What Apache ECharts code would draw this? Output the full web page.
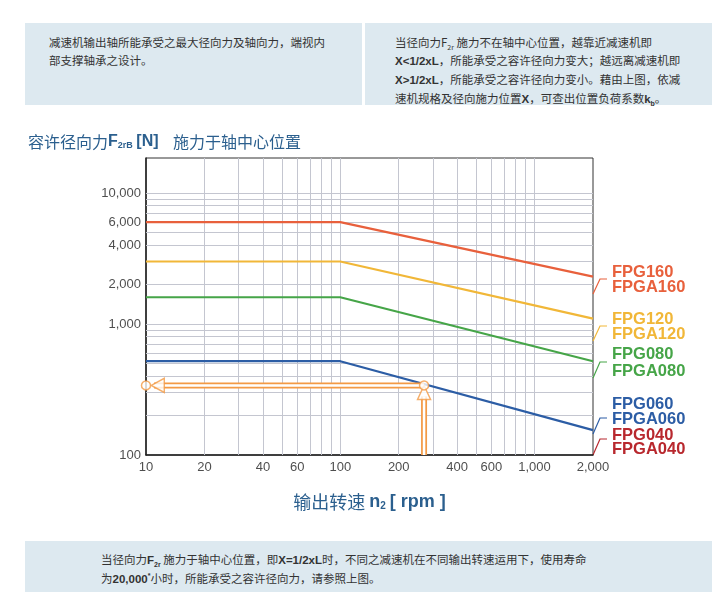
<!DOCTYPE html><html><head><meta charset="utf-8">
<script src="https://cdn.jsdelivr.net/npm/echarts@6/dist/echarts.min.js"></script>
<style>
body{margin:0;width:712px;height:592px;position:relative;background:#fff;font-family:"Noto Sans CJK SC",sans-serif;overflow:hidden}
.box{position:absolute;background:#dde9f0;font-size:11.5px;color:#333;line-height:18px}
sub,sup{font-size:7px;line-height:0}
#c{position:absolute;left:0;top:0;width:712px;height:592px}
b{font-family:"Liberation Sans",sans-serif}
</style></head><body>
<div class="box" style="left:25px;top:23px;width:337px;height:82px;"><div style="padding:10px 0 0 24px">减速机输出轴所能承受之最大径向力及轴向力，端视内<br>部支撑轴承之设计。</div></div>
<div class="box" style="left:365px;top:23px;width:347px;height:82px;"><div style="padding:10px 0 0 30px">当径向力F<sub>2r</sub> 施力不在轴中心位置，越靠近减速机即<br><b>X&lt;1/2xL</b>，所能承受之容许径向力变大；越远离减速机即<br><b>X&gt;1/2xL</b>，所能承受之容许径向力变小。藉由上图，依减<br>速机规格及径向施力位置<b>X</b>，可查出位置负荷系数<b>k<sub>b</sub></b>。</div></div>
<div class="box" style="left:25px;top:541px;width:687px;height:51px;"><div style="padding:9px 0 0 76px">当径向力<b>F<sub>2r</sub></b> 施力于轴中心位置，即<b>X=1/2xL</b>时，不同之减速机在不同输出转速运用下，使用寿命<br>为<b>20,000<sup>*</sup></b>小时，所能承受之容许径向力，请参照上图。</div></div>
<div id="c"></div>
<script>
const xTicks=[10,20,40,60,100,200,400,600,1000,2000];
const xTickLabels=['10','20','40','60','100','200','400','600','1,000','2,000'];
const yTicks=[100,1000,2000,4000,6000,10000];
const yTickLabels=['100','1,000','2,000','4,000','6,000','10,000'];
const xGrid=[20,30,40,50,60,70,80,90,100,200,300,400,500,600,700,800,900,1000];
const yGrid=[200,300,400,500,600,700,800,900,1000,2000,3000,4000,5000,6000,7000,8000,9000,10000];
const speeds=[10,100,2000];
const fpg160=[6000,6000,2300];
const fpg120=[3000,3000,1100];
const fpg080=[1600,1600,520];
const fpg060=[520,520,155];
const pointX=270, pointY=340;
const chart=echarts.init(document.getElementById('c'));
const mk=(v)=>speeds.map((s,i)=>[s,v[i]]);
const lineS=(d,c)=>({type:'line',data:mk(d),symbol:'none',lineStyle:{color:c,width:2.2},z:5,silent:true});
const B='#2b5f8e';
chart.setOption({
animation:false,
title:{text:'容许径向力{s|F}{sub|2rB} {s|[N]}    施力于轴中心位置',left:23,top:129,textStyle:{fontSize:16,fontWeight:'normal',color:B,fontFamily:'Noto Sans CJK SC',rich:{s:{fontSize:16,fontWeight:'bold',color:B,fontFamily:'Liberation Sans'},sub:{fontSize:9,fontWeight:'bold',color:B,padding:[7,0,0,0],fontFamily:'Liberation Sans'}}}},
grid:{left:146,right:119,top:158,bottom:137,show:true,borderColor:'#333',borderWidth:1},
xAxis:{type:'log',min:10,max:2000,logBase:10,axisLabel:{show:false},axisTick:{show:false},splitLine:{show:false},axisLine:{lineStyle:{color:'#222',width:1.5}},
 name:'输出转速 {b|n}{sub|2} {b|[ rpm ]}',nameLocation:'middle',nameGap:38,nameTextStyle:{fontSize:18,color:B,fontFamily:'Noto Sans CJK SC',rich:{b:{fontSize:18,fontWeight:'bold',color:B,fontFamily:'Liberation Sans'},sub:{fontSize:10,fontWeight:'bold',color:B,padding:[8,0,0,0],fontFamily:'Liberation Sans'}}}},
yAxis:{type:'log',min:100,max:18500,axisLabel:{show:false},axisTick:{show:false},splitLine:{show:false},axisLine:{lineStyle:{color:'#222',width:1.5}}},
series:[
{type:'line',data:[],markLine:{silent:true,symbol:'none',label:{show:false},lineStyle:{color:'#c4c6d0',type:'solid',width:1},data:xGrid.map(v=>({xAxis:v})).concat(yGrid.map(v=>({yAxis:v})))},z:1},
{type:'scatter',data:xTicks.map((v,i)=>[v,100,xTickLabels[i]]),symbolSize:0,label:{show:true,position:'bottom',distance:6,formatter:p=>p.data[2],fontSize:13,color:'#222',fontFamily:'Liberation Sans Narrow, Liberation Sans'},silent:true},
{type:'scatter',data:yTicks.map((v,i)=>[10,v,yTickLabels[i]]),symbolSize:0,label:{show:true,position:'left',distance:5,formatter:p=>p.data[2],fontSize:13,color:'#222',fontFamily:'Liberation Sans Narrow, Liberation Sans'},silent:true},
lineS(fpg160,'#e8603c'),lineS(fpg120,'#f1b738'),lineS(fpg080,'#46a548'),lineS(fpg060,'#2c5da5'),
{type:'line',data:[[11,pointY],[pointX,pointY]],symbol:'none',lineStyle:{color:'#f39a45',width:6},z:6,silent:true},
{type:'line',data:[[11,pointY],[pointX,pointY]],symbol:'none',lineStyle:{color:'#fff',width:2.5},z:7,silent:true},
{type:'line',data:[[pointX,100],[pointX,280]],symbol:'none',lineStyle:{color:'#f39a45',width:6},z:6,silent:true},
{type:'line',data:[[pointX,100],[pointX,280]],symbol:'none',lineStyle:{color:'#fff',width:2.5},z:7,silent:true},
{type:'scatter',data:[[11.5,pointY]],symbol:'triangle',symbolRotate:90,symbolSize:[14,13],itemStyle:{color:'#fff',borderColor:'#f39a45',borderWidth:1.5},z:8,silent:true},
{type:'scatter',data:[[pointX,300]],symbol:'triangle',symbolSize:[13,14],itemStyle:{color:'#fff',borderColor:'#f39a45',borderWidth:1.5},z:8,silent:true},
{type:'scatter',data:[[10,pointY],[pointX,pointY]],symbol:'circle',symbolSize:9,itemStyle:{color:'#fff',borderColor:'#f39a45',borderWidth:1.5},z:9,silent:true}
],
graphic:[
{type:'polyline',shape:{points:[[593,294],[600,279],[607,279]]},style:{stroke:'#e8603c',lineWidth:1.2,fill:null}},
{type:'text',x:612,y:265,style:{text:'FPG160\nFPGA160',fill:'#e8603c',font:'bold 16.5px Liberation Sans',lineHeight:15}},
{type:'polyline',shape:{points:[[593,341],[600,326],[607,326]]},style:{stroke:'#f1b738',lineWidth:1.2,fill:null}},
{type:'text',x:612,y:312,style:{text:'FPG120\nFPGA120',fill:'#f1b738',font:'bold 16.5px Liberation Sans',lineHeight:15}},
{type:'polyline',shape:{points:[[593,378],[600,362],[607,362]]},style:{stroke:'#46a548',lineWidth:1.2,fill:null}},
{type:'text',x:612,y:346,style:{text:'FPG080\nFPGA080',fill:'#46a548',font:'bold 16.5px Liberation Sans',lineHeight:17}},
{type:'polyline',shape:{points:[[593,434],[600,418],[607,418]]},style:{stroke:'#2c5da5',lineWidth:1.2,fill:null}},
{type:'text',x:612,y:397,style:{text:'FPG060\nFPGA060',fill:'#2c5da5',font:'bold 16.5px Liberation Sans',lineHeight:15}},
{type:'polyline',shape:{points:[[593,455],[600,439],[607,439]]},style:{stroke:'#b8282e',lineWidth:1.2,fill:null}},
{type:'text',x:612,y:428,style:{text:'FPG040\nFPGA040',fill:'#b8282e',font:'bold 16.5px Liberation Sans',lineHeight:14}}
]
});
</script></body></html>
